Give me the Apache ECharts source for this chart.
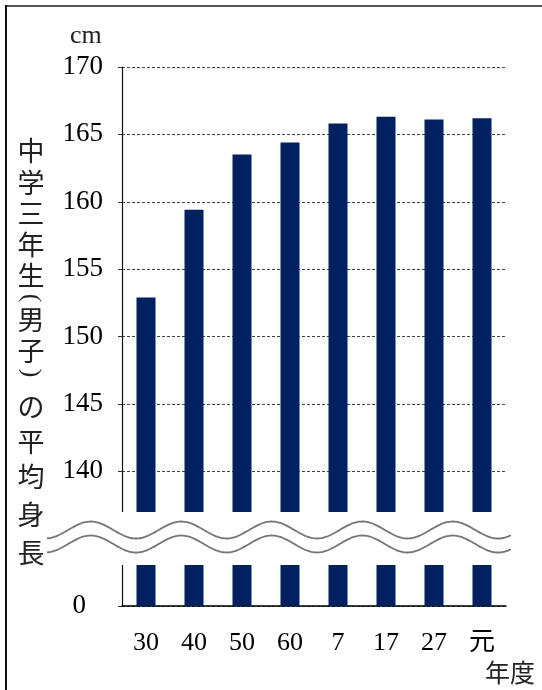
<!DOCTYPE html>
<html><head><meta charset="utf-8">
<script src="https://cdn.jsdelivr.net/npm/echarts@6/dist/echarts.min.js"></script>
<style>html,body{margin:0;padding:0;background:#fff}#c{width:542px;height:690px}</style>
</head><body><div id="c"></div>
<script>
// Data
const categories = ['30', '40', '50', '60', '7', '17', '27', '元'];
const heights = [152.9, 159.4, 163.5, 164.4, 165.8, 166.3, 166.1, 166.2];
const yTicks = [130, 135, 140, 145, 150, 155, 160, 165, 170];
const titleChars = ['中','学','三','年','生','(','男','子',')','の','平','均','身','長'];

const chart = echarts.init(document.getElementById('c'));
const serif = "'Liberation Serif', 'Noto Sans CJK JP', serif";

// wavy break lines (decoration)
function wave(yc) {
  const pts = [];
  for (let x = 47; x <= 512; x += 2) {
    pts.push([x, yc + 8.5 * Math.cos(2 * Math.PI * (x - 136) / 90.5)]);
  }
  return pts;
}

// title char positions (vertical text)
const titleY = [151, 183, 214, 245, 276, 298, 320, 351, 373, 407, 442, 477, 515, 553];
const titleEls = titleChars.map((ch, i) => {
  const paren = ch === '(' || ch === ')';
  return {
    type: 'text', z: 10, x: 31, y: titleY[i],
    rotation: paren ? -Math.PI / 2 : 0,
    style: {
      text: ch, align: 'center', verticalAlign: 'middle',
      font: paren ? "26px 'Liberation Serif'" : "27px 'Noto Sans CJK JP'", fill: '#222'
    }
  };
});

chart.setOption({
  animation: false,
  grid: { left: 122, right: 36, top: 67, bottom: 84, containLabel: false },
  xAxis: {
    type: 'category', data: categories, boundaryGap: true,
    axisLine: { lineStyle: { color: '#000', width: 1.5 } },
    axisTick: { inside: true, length: 8, lineStyle: { color: '#222', width: 1 } },
    axisLabel: { fontFamily: serif, fontSize: 26, color: '#000', margin: 24 }
  },
  yAxis: {
    type: 'value', min: 130, max: 170, interval: 5,
    axisLine: { show: true, lineStyle: { color: '#111', width: 1.2 } },
    axisTick: { show: true, length: 4, lineStyle: { color: '#333' } },
    axisLabel: {
      fontFamily: serif, fontSize: 27, color: '#000', margin: 19,
      formatter: v => v === 130 ? '{z|0}' : (v === 135 ? '' : String(v)),
      rich: { z: { fontFamily: serif, fontSize: 27, color: '#000', padding: [0, 17, 0, 0] } }
    },
    splitLine: { show: true, lineStyle: { color: '#444', width: 1, type: [3, 2] } }
  },
  series: [{
    type: 'bar', data: heights, barWidth: 19,
    itemStyle: { color: '#002060' }
  }],
  graphic: [
    { type: 'line', z: 10, shape: { x1: 6, y1: 6, x2: 542, y2: 6 }, style: { stroke: '#555', lineWidth: 2 } },
    { type: 'line', z: 10, shape: { x1: 6, y1: 5, x2: 6, y2: 690 }, style: { stroke: '#111', lineWidth: 2 } },
    { type: 'rect', z: 20, shape: { x: 110, y: 512, width: 405, height: 53 }, style: { fill: '#fff' } },
    { type: 'polyline', z: 21, shape: { points: wave(530), smooth: 0.3 }, style: { stroke: '#777', lineWidth: 1.8, fill: null } },
    { type: 'polyline', z: 21, shape: { points: wave(544), smooth: 0.3 }, style: { stroke: '#777', lineWidth: 1.8, fill: null } },
    { type: 'text', z: 10, left: 70, top: 23, style: { text: 'cm', font: "26px 'Liberation Serif'", fill: '#222' } },
    { type: 'text', z: 10, left: 485, top: 660, style: { text: '年度', font: "25px 'Noto Sans CJK JP'", fill: '#222' } },
    ...titleEls
  ]
});
</script></body></html>
